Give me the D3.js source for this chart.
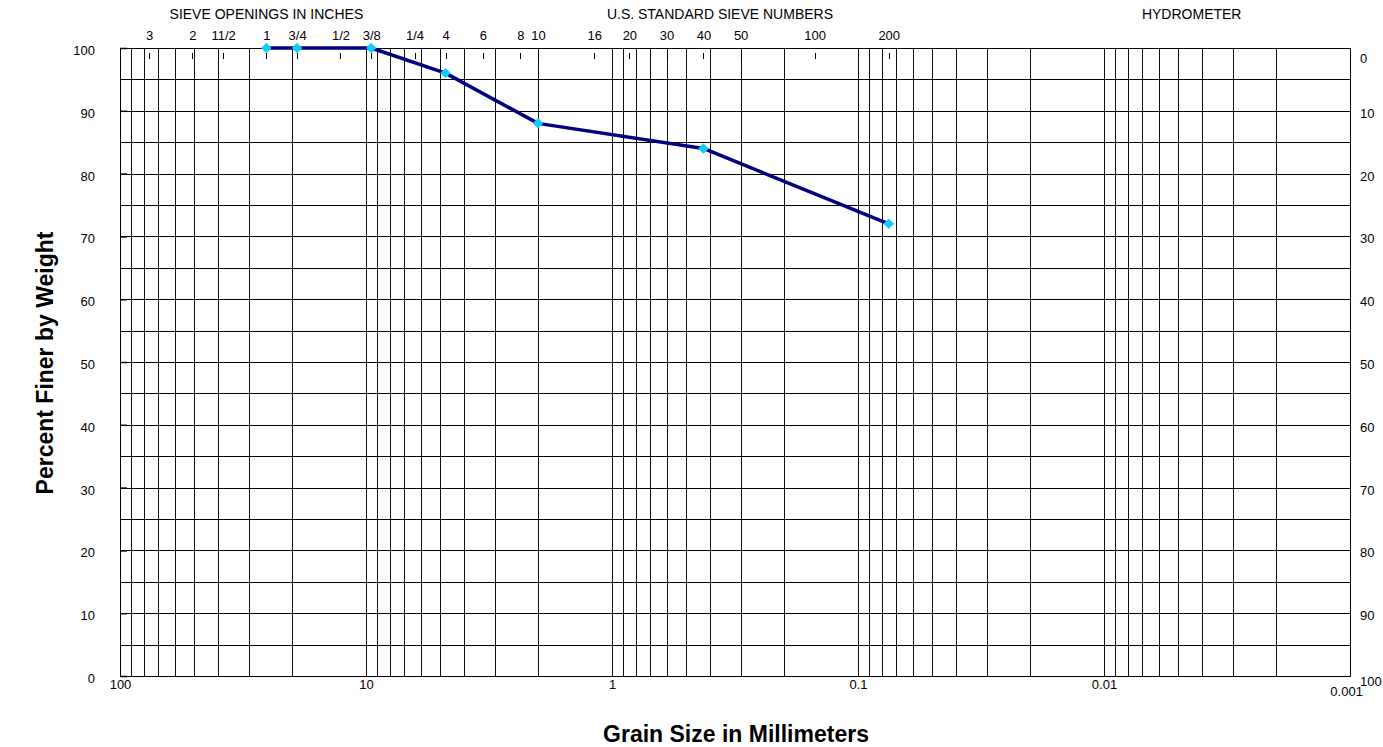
<!DOCTYPE html>
<html><head><meta charset="utf-8">
<script src="https://cdn.jsdelivr.net/npm/d3@7"></script>
<style>body{margin:0;background:#fff}text{font-family:Arial,"Liberation Sans",sans-serif}</style>
</head><body><svg id="c" width="1383" height="747"></svg>
<script>
// Data
const grainSize = [25.4, 19.05, 9.525, 4.75, 2.0, 0.425, 0.075];
const percentFiner = [100, 100, 100, 96, 88, 84, 72];
const sieveLabels = ["3","2","11/2","1","3/4","1/2","3/8","1/4","4","6","8","10","16","20","30","40","50","100","200"];
const sieveSizes = [76.2,50.8,38.1,25.4,19.05,12.7,9.525,6.35,4.75,3.35,2.36,2.0,1.18,0.85,0.6,0.425,0.3,0.15,0.075];
const xTickValues = [100,10,1,0.1,0.01,0.001];
const xTickLabels = ["100","10","1","0.1","0.01","0.001"];
const yTicks = [0,10,20,30,40,50,60,70,80,90,100];
const headerLabels = ["SIEVE OPENINGS IN INCHES","U.S. STANDARD SIEVE NUMBERS","HYDROMETER"];
const headerAt = [25.4, 0.364, 0.0044];

const svg = d3.select("#c");
const L=120,R=1350,T=48,B=676;
const x = d3.scaleLog().domain([100,0.001]).range([L,R]);
const y = d3.scaleLinear().domain([0,100]).range([B,T]);
const y2 = d3.scaleLinear().domain([100,0]).range([B,T]);

// vertical grid lines
const vg=[];
for(let e=-3;e<2;e++){for(let m=1;m<=9;m++){vg.push(m*Math.pow(10,e));}}
vg.push(100);
svg.append("g").selectAll("line").data(vg).join("line")
 .attr("x1",d=>Math.round(x(d))+0.5).attr("x2",d=>Math.round(x(d))+0.5)
 .attr("y1",T).attr("y2",B).attr("stroke","#111").attr("stroke-width",1);
// horizontal grid
const hg=d3.range(0,101,5);
svg.append("g").selectAll("line").data(hg).join("line")
 .attr("x1",L).attr("x2",R).attr("y1",d=>Math.round(y(d))+0.5).attr("y2",d=>Math.round(y(d))+0.5)
 .attr("stroke","#000").attr("stroke-width",1);

const FS=13;
// left axis
const la=svg.append("g").attr("transform",`translate(${L},0)`)
 .call(d3.axisLeft(y).tickValues(yTicks).tickSize(-7).tickPadding(25));
la.select(".domain").attr("stroke","#000");
la.selectAll(".tick line").attr("stroke-width",1.5);
la.selectAll("text").attr("font-size",FS).attr("fill","#000").attr("dy","0.5em");
// right axis
const ra=svg.append("g").attr("transform",`translate(${R},0)`)
 .call(d3.axisRight(y2).tickValues(yTicks).tickSize(0).tickPadding(10));
ra.select(".domain").attr("stroke","#000");
ra.selectAll("text").attr("font-size",FS).attr("fill","#000")
 .attr("dy",d=>d===0?"1.1em":(d===100?"0.72em":"0.5em"));
// bottom axis
const ba=svg.append("g").attr("transform",`translate(0,${B})`)
 .call(d3.axisBottom(x).tickValues(xTickValues).tickFormat((d,i)=>xTickLabels[i]).tickSize(0).tickPadding(4));
ba.select(".domain").attr("stroke","#000");
ba.selectAll("text").attr("font-size",FS).attr("fill","#000")
 .attr("dx",d=>d===0.001?"-0.3em":0).attr("dy",d=>d===0.001?"1.25em":"0.71em");
// top axis (sieve)
const ta=svg.append("g").attr("transform",`translate(0,${T})`)
 .call(d3.axisTop(x).tickValues(sieveSizes).tickFormat((d,i)=>sieveLabels[i]).tickSize(0).tickPadding(8));
ta.select(".domain").attr("stroke","#000");
ta.selectAll("text").attr("font-size",FS).attr("fill","#000");
svg.append("g").selectAll("line").data(sieveSizes).join("line")
 .attr("x1",d=>Math.round(x(d))+0.5).attr("x2",d=>Math.round(x(d))+0.5)
 .attr("y1",53).attr("y2",59).attr("stroke","#000");
svg.append("g").selectAll("text").data(headerLabels).join("text")
 .attr("x",(d,i)=>x(headerAt[i])).attr("y",19).attr("text-anchor","middle").attr("font-size",14).text(d=>d);

// titles
svg.append("text").attr("transform","translate(53,363) rotate(-90)").attr("text-anchor","middle")
 .attr("font-size",23).attr("font-weight","bold").text("Percent Finer by Weight");
svg.append("text").attr("x",736).attr("y",742).attr("text-anchor","middle")
 .attr("font-size",23).attr("font-weight","bold").text("Grain Size in Millimeters");

// data line
const pts=grainSize.map((g,i)=>[g,percentFiner[i]]);
svg.append("path").datum(pts).attr("fill","none").attr("stroke","#000080").attr("stroke-width",3.5)
 .attr("stroke-linejoin","round")
 .attr("d",d3.line().x(d=>x(d[0])).y(d=>y(d[1])));
svg.append("g").selectAll("path").data(pts).join("path")
 .attr("transform",d=>`translate(${x(d[0])},${y(d[1])})`)
 .attr("d",d3.symbol(d3.symbolDiamond2,70)).attr("fill","#11ccff");
</script></body></html>
